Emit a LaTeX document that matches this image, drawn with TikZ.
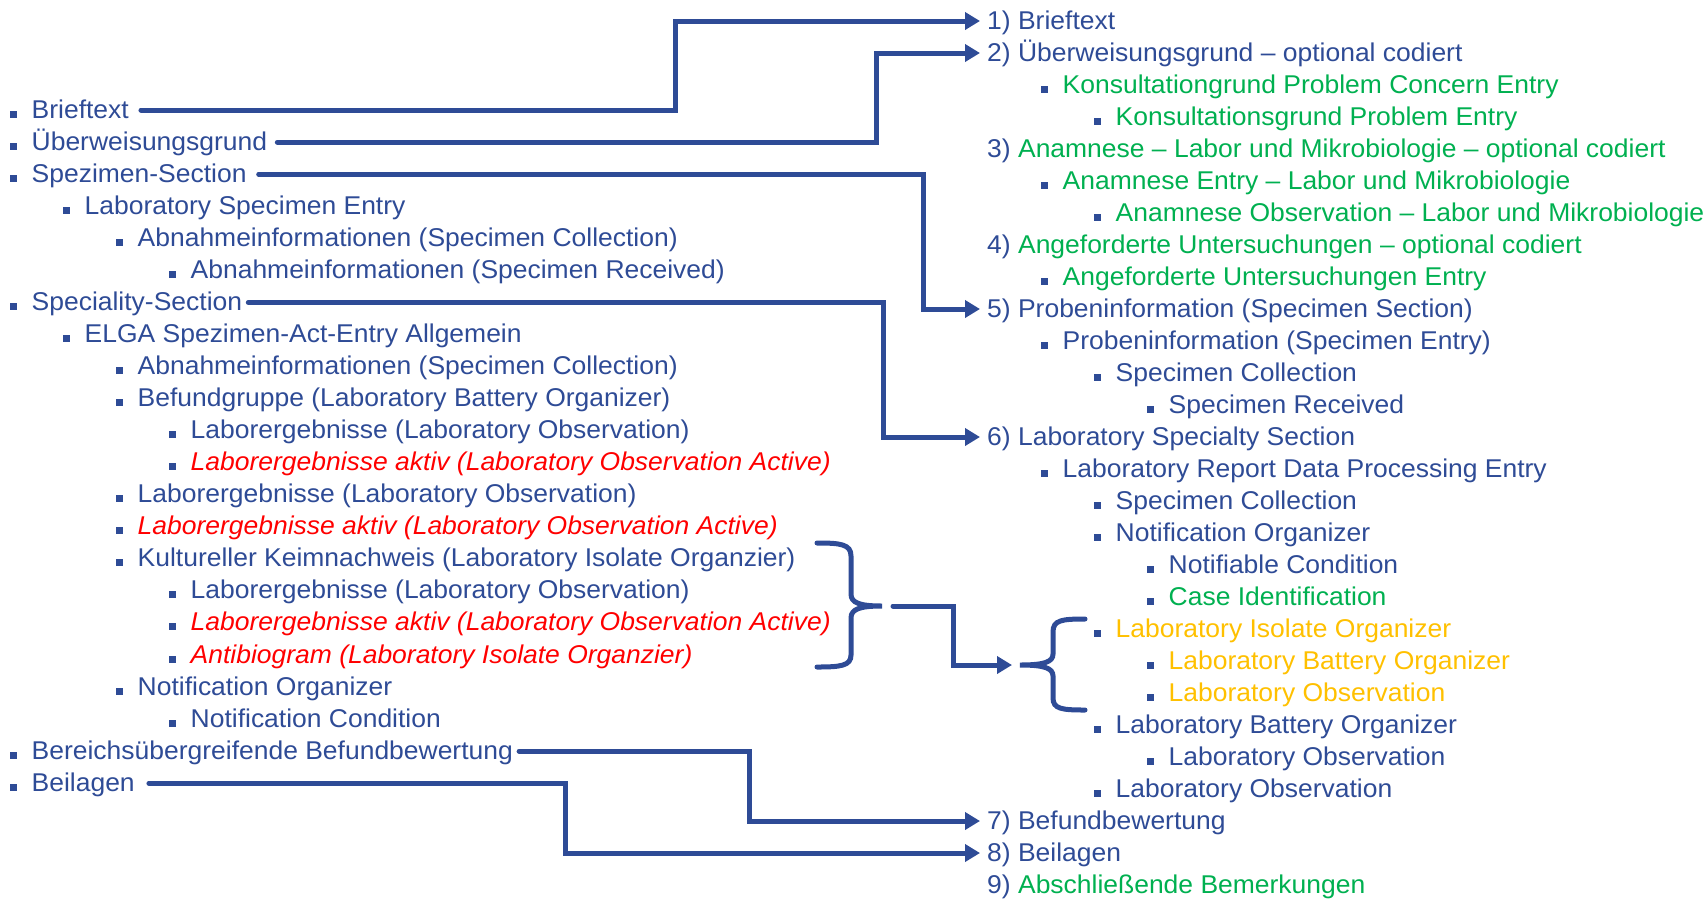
\documentclass[tikz,border=0pt]{standalone}
\usepackage{fontspec}
\setmainfont{Liberation Sans}[FakeStretch=1.03]
\usetikzlibrary{arrows.meta}
\definecolor{tblue}{HTML}{2E4B96}
\definecolor{tgreen}{HTML}{00B050}
\definecolor{tred}{HTML}{FF0000}
\definecolor{torange}{HTML}{FFC000}
\tikzset{
  txt/.style={anchor=base west, inner sep=0pt, text height=20pt, text depth=4pt,
    font=\fontsize{25.7}{30}\selectfont, text=tblue},
  grn/.style={text=tgreen},
  rd/.style={text=tred, font=\fontsize{25.7}{30}\selectfont\itshape},
  org/.style={text=torange},
  conn/.style={draw=tblue, line width=5pt, line join=miter, line cap=round},
  arr/.style={conn, -{Triangle[length=15pt,width=17pt]}},
  bul/.style={fill=tblue},
}
% left item: name, level, line, style, text
\newcommand\Litem[5]{%
  \fill[bul] ({31.5+53*#2-22},{118+32.06*#3-7.5}) rectangle ({31.5+53*#2-15},{118+32.06*#3-0.5});
  \node[txt,#4] (#1) at ({31.5+53*#2},{118+32.06*#3}) {#5};}
% right bulleted item: name, level, line, style, text
\newcommand\Ritem[5]{%
  \fill[bul] ({1062.5+53*(#2-1)-22},{29+32*#3-7.5}) rectangle ({1062.5+53*(#2-1)-15},{29+32*#3-0.5});
  \node[txt,#4] (#1) at ({1062.5+53*(#2-1)},{29+32*#3}) {#5};}
% right numbered item: name, line, text
\newcommand\Rnum[3]{%
  \node[txt] (#1) at (987,{29+32*#2}) {#3};}
\begin{document}
\begin{tikzpicture}[x=1pt,y=-1pt]
\useasboundingbox (0,0) rectangle (1707,898);
% left column
\Litem{L0}{0}{0}{}{Brieftext}
\Litem{L1}{0}{1}{}{Überweisungsgrund}
\Litem{L2}{0}{2}{}{Spezimen-Section}
\Litem{L3}{1}{3}{}{Laboratory Specimen Entry}
\Litem{L4}{2}{4}{}{Abnahmeinformationen (Specimen Collection)}
\Litem{L5}{3}{5}{}{Abnahmeinformationen (Specimen Received)}
\Litem{L6}{0}{6}{}{Speciality-Section}
\Litem{L7}{1}{7}{}{ELGA Spezimen-Act-Entry Allgemein}
\Litem{L8}{2}{8}{}{Abnahmeinformationen (Specimen Collection)}
\Litem{L9}{2}{9}{}{Befundgruppe (Laboratory Battery Organizer)}
\Litem{L10}{3}{10}{}{Laborergebnisse (Laboratory Observation)}
\Litem{L11}{3}{11}{rd}{Laborergebnisse aktiv (Laboratory Observation Active)}
\Litem{L12}{2}{12}{}{Laborergebnisse (Laboratory Observation)}
\Litem{L13}{2}{13}{rd}{Laborergebnisse aktiv (Laboratory Observation Active)}
\Litem{L14}{2}{14}{}{Kultureller Keimnachweis (Laboratory Isolate Organzier)}
\Litem{L15}{3}{15}{}{Laborergebnisse (Laboratory Observation)}
\Litem{L16}{3}{16}{rd}{Laborergebnisse aktiv (Laboratory Observation Active)}
\Litem{L17}{3}{17}{rd}{Antibiogram (Laboratory Isolate Organzier)}
\Litem{L18}{2}{18}{}{Notification Organizer}
\Litem{L19}{3}{19}{}{Notification Condition}
\Litem{L20}{0}{20}{}{Bereichsübergreifende Befundbewertung}
\Litem{L21}{0}{21}{}{Beilagen}
% right column
\Rnum{R0}{0}{1) Brieftext}
\Rnum{R1}{1}{2) Überweisungsgrund – optional codiert}
\Ritem{R2}{1}{2}{grn}{Konsultationgrund Problem Concern Entry}
\Ritem{R3}{2}{3}{grn}{Konsultationsgrund Problem Entry}
\Rnum{R4}{4}{3) \textcolor{tgreen}{Anamnese – Labor und Mikrobiologie – optional codiert}}
\Ritem{R5}{1}{5}{grn}{Anamnese Entry – Labor und Mikrobiologie}
\Ritem{R6}{2}{6}{grn}{Anamnese Observation – Labor und Mikrobiologie}
\Rnum{R7}{7}{4) \textcolor{tgreen}{Angeforderte Untersuchungen – optional codiert}}
\Ritem{R8}{1}{8}{grn}{Angeforderte Untersuchungen Entry}
\Rnum{R9}{9}{5) Probeninformation (Specimen Section)}
\Ritem{R10}{1}{10}{}{Probeninformation (Specimen Entry)}
\Ritem{R11}{2}{11}{}{Specimen Collection}
\Ritem{R12}{3}{12}{}{Specimen Received}
\Rnum{R13}{13}{6) Laboratory Specialty Section}
\Ritem{R14}{1}{14}{}{Laboratory Report Data Processing Entry}
\Ritem{R15}{2}{15}{}{Specimen Collection}
\Ritem{R16}{2}{16}{}{Notification Organizer}
\Ritem{R17}{3}{17}{}{Notifiable Condition}
\Ritem{R18}{3}{18}{grn}{Case Identification}
\Ritem{R19}{2}{19}{org}{Laboratory Isolate Organizer}
\Ritem{R20}{3}{20}{org}{Laboratory Battery Organizer}
\Ritem{R21}{3}{21}{org}{Laboratory Observation}
\Ritem{R22}{2}{22}{}{Laboratory Battery Organizer}
\Ritem{R23}{3}{23}{}{Laboratory Observation}
\Ritem{R24}{2}{24}{}{Laboratory Observation}
\Rnum{R25}{25}{7) Befundbewertung}
\Rnum{R26}{26}{8) Beilagen}
\Rnum{R27}{27}{9) \textcolor{tgreen}{Abschließende Bemerkungen}}
% vertical guide coordinates
\coordinate (v1) at (675,0);
\coordinate (v2) at (876,0);
\coordinate (v3) at (923,0);
\coordinate (v4) at (883,0);
\coordinate (v5) at (749,0);
\coordinate (v6) at (565,0);
% connectors
\draw[arr] ([xshift=12pt]L0.east) -- (L0.east -| v1) -- (R0.west -| v1) -- ([xshift=-7pt]R0.west);
\draw[arr] ([xshift=10pt]L1.east) -- (L1.east -| v2) -- (R1.west -| v2) -- ([xshift=-7pt]R1.west);
\draw[arr] ([xshift=12pt]L2.east) -- (L2.east -| v3) -- (R9.west -| v3) -- ([xshift=-7pt]R9.west);
\draw[arr] ([xshift=6pt]L6.east) -- (L6.east -| v4) -- (R13.west -| v4) -- ([xshift=-7pt]R13.west);
\draw[arr] ([xshift=6pt]L20.east) -- (L20.east -| v5) -- (R25.west -| v5) -- ([xshift=-7pt]R25.west);
\draw[arr] ([xshift=14pt]L21.east) -- (L21.east -| v6) -- (R26.west -| v6) -- ([xshift=-7pt]R26.west);
% braces
\draw[conn] (817,543) .. controls (840,543) and (851,544) .. (851,556)
  -- (851,594) .. controls (851,603) and (860,606) .. (882,606)
  .. controls (860,606) and (851,609) .. (851,618)
  -- (851,655) .. controls (851,666) and (840,667) .. (817,667);
\coordinate (b1) at (893,606);
\coordinate (b2) at (1012,665);
\coordinate (v7) at (953,0);
\draw[arr] (b1) -- (b1 -| v7) -- (b2 -| v7) -- (b2);
\draw[conn] (1085,619) .. controls (1062,619) and (1053,620) .. (1053,632)
  -- (1053,654) .. controls (1053,662) and (1044,665) .. (1020,665)
  .. controls (1044,665) and (1053,668) .. (1053,676)
  -- (1053,698) .. controls (1053,709) and (1062,710) .. (1085,710);
\end{tikzpicture}
\end{document}
